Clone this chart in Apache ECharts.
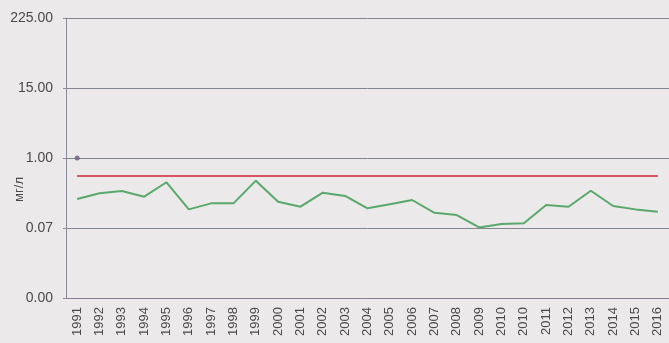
<!DOCTYPE html>
<html>
<head>
<meta charset="utf-8">
<script src="https://cdn.jsdelivr.net/npm/echarts@6/dist/echarts.min.js"></script>
<style>
  html, body { margin: 0; padding: 0; background: #ebe9e9; }
  #chart { width: 669px; height: 343px; }
</style>
</head>
<body>
<div id="chart"></div>
<script>
// Years of observation (2010 sampled twice)
var years = ['1991','1992','1993','1994','1995','1996','1997','1998','1999','2000',
  '2001','2002','2003','2004','2005','2006','2007','2008','2009','2010','2010',
  '2011','2012','2013','2014','2015','2016'];

// Measured concentration, mg/l
var concentration = [0.205,0.255,0.279,0.224,0.391,0.137,0.173,0.173,0.416,0.184,
  0.152,0.261,0.230,0.143,0.167,0.197,0.120,0.110,0.068,0.078,0.080,
  0.162,0.152,0.282,0.156,0.137,0.125];

// Permissible limit, mg/l
var limitValue = 0.5;
var limit = years.map(function () { return limitValue; });

// Single reference point at the first year
var refPoint = [1.0];

// Y axis: logarithmic, base 15, from 1/225 to 225
var yMin = 1 / 225;
var yMax = 225;

var chart = echarts.init(document.getElementById('chart'));
chart.setOption({
  backgroundColor: '#ebe9e9',
  animation: false,
  textStyle: { fontFamily: 'Liberation Sans, Arial, sans-serif' },
  grid: { left: 66, right: -5, top: 18, bottom: 45 },
  xAxis: {
    type: 'category',
    data: years,
    boundaryGap: true,
    axisLine: { show: true, lineStyle: { color: '#8a7d96', width: 1 } },
    axisTick: { show: false },
    axisLabel: {
      rotate: 90,
      interval: 0,
      color: '#4a4a4a',
      fontSize: 13,
      margin: 9
    },
    splitLine: { show: false }
  },
  yAxis: {
    type: 'log',
    logBase: 15,
    min: yMin,
    max: yMax,
    axisLine: { show: true, lineStyle: { color: '#8a8a9a', width: 1 } },
    axisTick: { show: true, length: 3, lineStyle: { color: '#9a8aa0' } },
    axisLabel: {
      color: '#4a4a4a',
      fontSize: 14,
      margin: 13,
      formatter: function (v) { return v.toFixed(2); }
    },
    splitLine: { show: true, lineStyle: { color: '#82868e', width: 1 } }
  },
  graphic: [{
    type: 'text',
    left: 13,
    top: 177,
    rotation: Math.PI / 2,
    style: {
      text: 'мг/л',
      fill: '#4a4a4a',
      font: '13px Liberation Sans, Arial, sans-serif'
    }
  }],
  series: [
    {
      name: 'limit',
      type: 'line',
      data: limit,
      symbol: 'none',
      lineStyle: { color: '#d9545e', width: 2 },
      z: 3
    },
    {
      name: 'concentration',
      type: 'line',
      data: concentration,
      symbol: 'none',
      lineStyle: { color: '#5aa86c', width: 2 },
      z: 4
    },
    {
      name: 'reference',
      type: 'scatter',
      data: refPoint,
      symbol: 'circle',
      symbolSize: 5,
      itemStyle: { color: '#6b5a80' },
      z: 5
    }
  ]
});
</script>
</body>
</html>
